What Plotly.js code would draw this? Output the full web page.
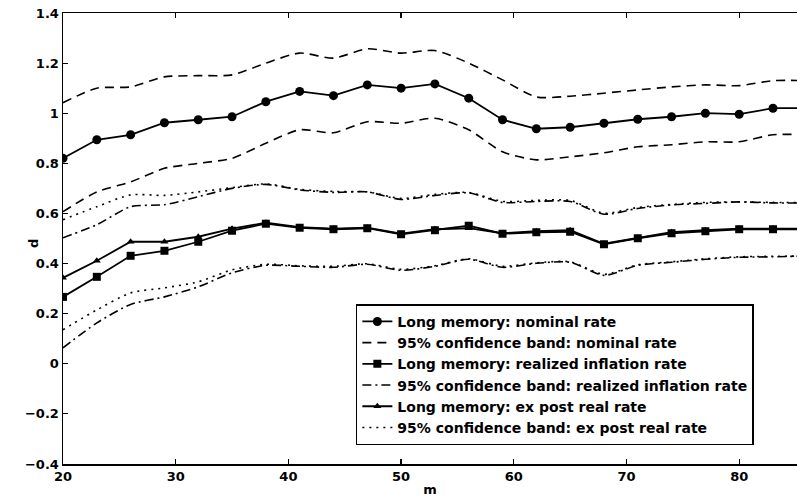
<!DOCTYPE html>
<html>
<head>
<meta charset="utf-8">
<script src="https://cdn.plot.ly/plotly-3.0.1.min.js"></script>
<style>html,body{margin:0;padding:0;background:#fff;overflow:hidden;}#chart{width:797px;height:498px;}</style>
</head>
<body>
<div id="chart"></div>
<script>
var m = [20,23,26,29,32,35,38,41,44,47,50,53,56,59,62,65,68,71,74,77,80,83,86];

var nominal      = [0.820,0.894,0.914,0.962,0.974,0.986,1.046,1.087,1.070,1.113,1.100,1.117,1.060,0.974,0.938,0.944,0.960,0.976,0.986,1.000,0.996,1.020,1.020];
var nominalUpper = [1.042,1.100,1.105,1.145,1.150,1.153,1.200,1.240,1.220,1.257,1.240,1.250,1.200,1.133,1.065,1.068,1.080,1.093,1.105,1.113,1.110,1.130,1.130];
var nominalLower = [0.607,0.686,0.726,0.780,0.800,0.820,0.880,0.934,0.922,0.966,0.960,0.980,0.934,0.846,0.814,0.826,0.842,0.866,0.874,0.886,0.886,0.914,0.914];

var realized      = [0.267,0.347,0.431,0.451,0.487,0.531,0.559,0.543,0.537,0.541,0.517,0.533,0.551,0.519,0.525,0.527,0.477,0.501,0.521,0.529,0.537,0.537,0.537];
var realizedUpper = [0.503,0.555,0.627,0.635,0.667,0.700,0.716,0.694,0.684,0.686,0.656,0.672,0.682,0.644,0.648,0.648,0.597,0.620,0.634,0.640,0.646,0.642,0.642];
var realizedLower = [0.064,0.163,0.237,0.267,0.307,0.363,0.393,0.389,0.385,0.397,0.373,0.389,0.417,0.385,0.401,0.405,0.353,0.393,0.405,0.417,0.425,0.427,0.430];

var expost      = [0.343,0.411,0.487,0.487,0.507,0.539,0.563,0.545,0.539,0.543,0.519,0.537,0.541,0.521,0.529,0.533,0.479,0.503,0.525,0.533,0.539,0.539,0.539];
var expostUpper = [0.575,0.627,0.674,0.672,0.686,0.703,0.718,0.696,0.688,0.686,0.660,0.676,0.684,0.648,0.652,0.652,0.601,0.624,0.636,0.644,0.646,0.644,0.644];
var expostLower = [0.136,0.215,0.283,0.303,0.327,0.375,0.397,0.391,0.389,0.399,0.377,0.391,0.419,0.389,0.403,0.407,0.357,0.395,0.407,0.419,0.427,0.429,0.430];

var names = [
  'Long memory: nominal rate',
  '95% confidence band: nominal rate',
  'Long memory: realized inflation rate',
  '95% confidence band: realized inflation rate',
  'Long memory: ex post real rate',
  '95% confidence band: ex post real rate'
];

var K = '#000';
function band(y, dash, name, show, grp) {
  return {x: m, y: y, mode: 'lines', name: name, showlegend: show, legendgroup: grp,
          line: {color: K, width: 1.6, dash: dash, shape: 'spline', smoothing: 0.7}};
}
var traces = [
  {x: m, y: nominal, mode: 'lines+markers', name: names[0], line: {color: K, width: 1.8},
   marker: {symbol: 'circle', size: 9, color: K}},
  band(nominalUpper, '9px,6px', names[1], true, 'nb'),
  {x: m, y: realized, mode: 'lines+markers', name: names[2], line: {color: K, width: 1.8},
   marker: {symbol: 'square', size: 8, color: K}},
  band(realizedUpper, '9px,4px,2px,4px', names[3], true, 'rb'),
  {x: m, y: expost, mode: 'lines+markers', name: names[4], line: {color: K, width: 1.8},
   marker: {symbol: 'triangle-up', size: 7, color: K}},
  band(expostUpper, '2px,5px', names[5], true, 'eb'),
  band(nominalLower, '9px,6px', names[1], false, 'nb'),
  band(realizedLower, '9px,4px,2px,4px', names[3], false, 'rb'),
  band(expostLower, '2px,5px', names[5], false, 'eb')
];

var fnt = {family: 'DejaVu Sans', size: 13, color: K, weight: 'bold'};
var layout = {
  width: 797, height: 498,
  margin: {l: 63, r: 0, t: 13, b: 34},
  paper_bgcolor: '#fff', plot_bgcolor: '#fff',
  showlegend: true,
  legend: {x: 0.399, y: 0.354, xanchor: 'left', yanchor: 'top',
           bgcolor: '#fff', bordercolor: K, borderwidth: 1.5,
           itemwidth: 30,
           font: {family: 'DejaVu Sans', size: 14, color: K, weight: 'bold'},
           tracegroupgap: 0},
  xaxis: {range: [20, 85.13], tickvals: [20,30,40,50,60,70,80],
          ticks: 'inside', ticklen: 5, tickwidth: 1.2, tickcolor: K,
          showline: true, linecolor: K, linewidth: 1.5, mirror: 'ticks',
          showgrid: false, zeroline: false, tickfont: fnt,
          title: {text: 'm', font: fnt, standoff: 2}},
  yaxis: {range: [-0.4, 1.4], dtick: 0.2, tick0: 0,
          ticks: 'inside', ticklen: 5, tickwidth: 1.2, tickcolor: K,
          showline: true, linecolor: K, linewidth: 1.5, mirror: false,
          showgrid: false, zeroline: false, tickfont: fnt},
  annotations: [{text: 'd', xref: 'paper', yref: 'paper', x: -0.041, y: 0.49,
                 textangle: -90, showarrow: false, font: fnt,
                 xanchor: 'center', yanchor: 'middle'}]
};

Plotly.newPlot('chart', traces, layout, {displayModeBar: false, staticPlot: true});
</script>
</body>
</html>
